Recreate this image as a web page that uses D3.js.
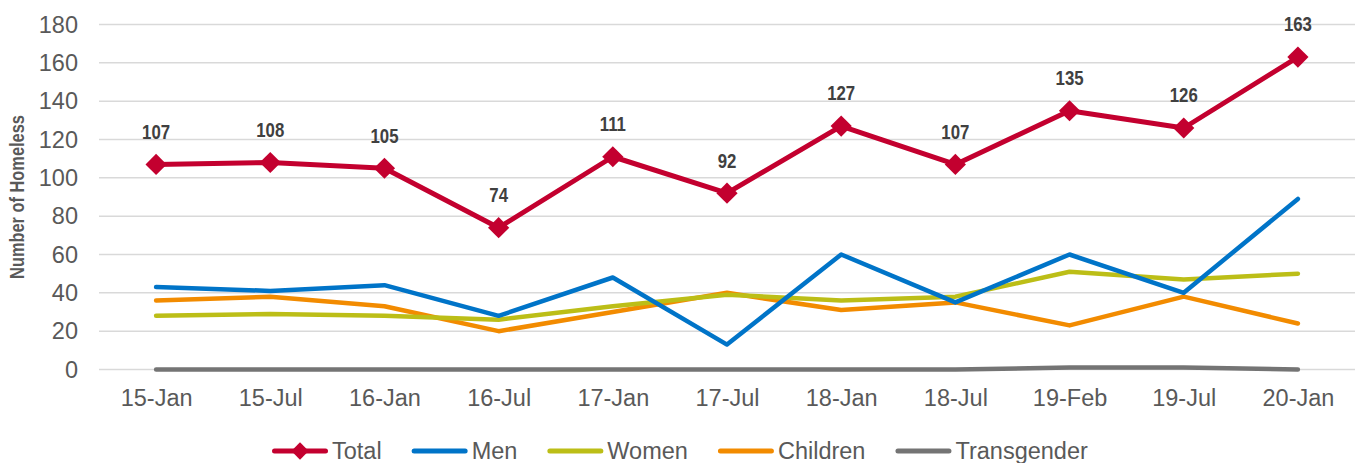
<!DOCTYPE html>
<html>
<head>
<meta charset="utf-8">
<script src="https://cdn.jsdelivr.net/npm/d3@7"></script>
<style>
  body { margin: 0; background: #fff; }
  svg { display: block; font-family: "Liberation Sans", Arial, sans-serif; }
</style>
</head>
<body>
<script>
// chart size
let width = 1358;
let height = 463;

// categories and series
let periods = ["15-Jan", "15-Jul", "16-Jan", "16-Jul", "17-Jan", "17-Jul", "18-Jan", "18-Jul", "19-Feb", "19-Jul", "20-Jan"];
let total = [107, 108, 105, 74, 111, 92, 127, 107, 135, 126, 163];
let men = [43, 41, 44, 28, 48, 13, 60, 35, 60, 40, 89];
let women = [28, 29, 28, 26, 33, 39, 36, 38, 51, 47, 50];
let children = [36, 38, 33, 20, 30, 40, 31, 35, 23, 38, 24];
let transgender = [0, 0, 0, 0, 0, 0, 0, 0, 1, 1, 0];
let yTicks = [0, 20, 40, 60, 80, 100, 120, 140, 160, 180];

let series = [
  { name: "Total", values: total, color: "#C3002F", marker: true },
  { name: "Men", values: men, color: "#0074C8" },
  { name: "Women", values: women, color: "#BCBE17" },
  { name: "Children", values: children, color: "#F28B00" },
  { name: "Transgender", values: transgender, color: "#747474" }
];

let margin = { left: 99, right: 3, top: 24.5, bottom: 93.5 };
let tickFont = 23.5;

let x = d3.scalePoint()
  .domain(periods)
  .range([margin.left, width - margin.right])
  .padding(0.5);

let y = d3.scaleLinear()
  .domain([0, 180])
  .range([height - margin.bottom, margin.top]);

let svg = d3.select("body").append("svg")
  .attr("width", width)
  .attr("height", height);

// gridlines
svg.append("g")
  .selectAll("line")
  .data(yTicks)
  .join("line")
  .attr("x1", margin.left)
  .attr("x2", width - margin.right)
  .attr("y1", d => y(d))
  .attr("y2", d => y(d))
  .attr("stroke", "#D9D9D9")
  .attr("stroke-width", 1.5);

// y axis labels
let yAxis = svg.append("g")
  .attr("transform", `translate(${margin.left - 21},0)`)
  .call(d3.axisLeft(y).tickValues(yTicks).tickSize(0).tickPadding(0));
yAxis.select(".domain").remove();
yAxis.selectAll("text")
  .attr("font-size", tickFont)
  .attr("font-family", "Liberation Sans, Arial, sans-serif")
  .attr("fill", "#595959");

// x axis labels
let xAxis = svg.append("g")
  .attr("transform", `translate(0,${height - margin.bottom + 20})`)
  .call(d3.axisBottom(x).tickSize(0).tickPadding(0));
xAxis.select(".domain").remove();
xAxis.selectAll("text")
  .attr("font-size", tickFont)
  .attr("font-family", "Liberation Sans, Arial, sans-serif")
  .attr("fill", "#595959");

// y axis title (narrow bold look)
svg.append("text")
  .attr("transform", `translate(24,${y(90)}) rotate(-90) scale(0.82,1)`)
  .attr("text-anchor", "middle")
  .attr("font-weight", "bold")
  .attr("font-size", 20)
  .attr("fill", "#595959")
  .text("Number of Homeless");

// lines, drawn back to front
let line = d3.line()
  .x((d, i) => x(periods[i]))
  .y(d => y(d));

let drawOrder = [series[4], series[3], series[2], series[1], series[0]];
svg.append("g")
  .selectAll("path")
  .data(drawOrder)
  .join("path")
  .attr("d", d => line(d.values))
  .attr("fill", "none")
  .attr("stroke", d => d.color)
  .attr("stroke-width", d => d.marker ? 5 : 4.5)
  .attr("stroke-linecap", "round")
  .attr("stroke-linejoin", "round");

// diamond markers on total
let diamond = d3.symbol().type(d3.symbolSquare).size(225);
svg.append("g")
  .selectAll("path")
  .data(total)
  .join("path")
  .attr("d", diamond)
  .attr("transform", (d, i) => `translate(${x(periods[i])},${y(d)}) rotate(45)`)
  .attr("fill", series[0].color);

// value labels on total
svg.append("g")
  .selectAll("text")
  .data(total)
  .join("text")
  .attr("transform", (d, i) => `translate(${x(periods[i])},${y(d) - 33}) scale(0.82,1)`)
  .attr("dy", "0.36em")
  .attr("text-anchor", "middle")
  .attr("font-weight", "bold")
  .attr("font-size", 20.5)
  .attr("fill", "#404040")
  .text(d => d);

// legend
let legend = svg.append("g");
let lx = 272;
let ly = 451;
series.forEach(s => {
  legend.append("line")
    .attr("x1", lx + 2.5)
    .attr("x2", lx + 53.5)
    .attr("y1", ly)
    .attr("y2", ly)
    .attr("stroke", s.color)
    .attr("stroke-width", 5)
    .attr("stroke-linecap", "round");
  if (s.marker) {
    legend.append("path")
      .attr("d", d3.symbol().type(d3.symbolSquare).size(150))
      .attr("transform", `translate(${lx + 28},${ly}) rotate(45)`)
      .attr("fill", s.color);
  }
  let t = legend.append("text")
    .attr("x", lx + 60)
    .attr("y", ly)
    .attr("dy", "0.36em")
    .attr("font-size", tickFont)
    .attr("fill", "#595959")
    .text(s.name);
  lx += 60 + t.node().getComputedTextLength() + 30;
});
</script>
</body>
</html>
